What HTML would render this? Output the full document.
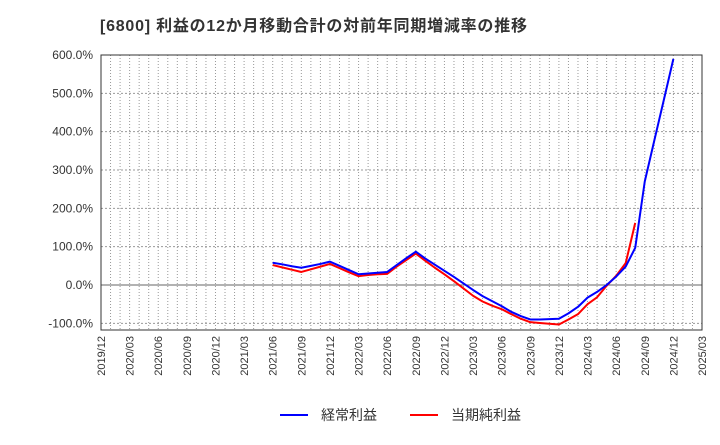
<!DOCTYPE html>
<html><head><meta charset="utf-8"><style>
body{margin:0;background:#fff;font-family:"Liberation Sans","Noto Sans CJK JP",sans-serif}
</style></head><body>
<svg id="c" width="720" height="440" xmlns="http://www.w3.org/2000/svg" font-family="Liberation Sans, Noto Sans CJK JP, sans-serif">
<text x="100" y="31" font-size="16" font-weight="bold" fill="#333" textLength="427" lengthAdjust="spacing">[6800]  利益の12か月移動合計の対前年同期増減率の推移</text>
<g id="grid"></g><g id="axes"></g><g id="series"></g>
<g>
<line x1="280" y1="415" x2="308" y2="415" stroke="#0000ff" stroke-width="2"/>
<text x="321" y="420" font-size="14" fill="#333">経常利益</text>
<line x1="410" y1="415" x2="438" y2="415" stroke="#ff0000" stroke-width="2"/>
<text x="451" y="420" font-size="14" fill="#333">当期純利益</text>
</g>
</svg>
<script>
const xLabels=["2019/12","2020/03","2020/06","2020/09","2020/12","2021/03","2021/06","2021/09","2021/12","2022/03","2022/06","2022/09","2022/12","2023/03","2023/06","2023/09","2023/12","2024/03","2024/06","2024/09","2024/12","2025/03"];
const yTicks=[-100,0,100,200,300,400,500,600];
const startMonth=18;
const keijo=[58,54,49,45,50,55,61,50,39,28,30,32,34,52,70,87,69,53,37,21,4,-13,-29,-42,-55,-70,-81,-90,-90,-89,-88,-74,-57,-33,-18,0,22,48,97,270,377,483,590];
const junri=[52,46,40,34,41,48,55,44,33,23,26,28,29,48,65,82,63,45,28,10,-9,-28,-43,-54,-63,-76,-88,-97,-99,-101,-103,-90,-76,-50,-32,-2,24,57,162];
const L=101,R=702,T=55,B=330,months=63;
const xs=m=>L+(R-L)*m/months;
const ys=v=>285-v*0.3833;
const NS="http://www.w3.org/2000/svg";
function mk(t,a,p){const e=document.createElementNS(NS,t);for(const k in a)e.setAttribute(k,a[k]);p.appendChild(e);return e;}
const g=document.getElementById('grid'),ax=document.getElementById('axes'),s=document.getElementById('series');
for(let m=1;m<months;m++){const l=mk('line',{x1:xs(m),x2:xs(m),y1:T,y2:B,stroke:'#999','stroke-dasharray':'1,2','stroke-width':1},g);

}
yTicks.forEach(v=>{const y=ys(v);const l=mk('line',{x1:L,x2:R,y1:y,y2:y,stroke:v===0?'#666':'#999','stroke-dasharray':v===0?'':'2,2','stroke-width':1},g);


const t=mk('text',{x:93,y:y+4,'text-anchor':'end','font-size':12,fill:'#333'},ax);t.textContent=v.toFixed(1)+'%';

});
const fr=mk('rect',{x:L,y:T,width:R-L,height:B-T,fill:'none',stroke:'#333','stroke-width':1},ax);


xLabels.forEach((lab,i)=>{const x=xs(i*3);const t=mk('text',{x:0,y:0,'text-anchor':'end','font-size':11,fill:'#333',transform:`translate(${x+4},${B+6}) rotate(-90)`},ax);t.textContent=lab;

});
function line(d,c,n){const p=mk('polyline',{points:d.map((v,i)=>xs(startMonth+i)+','+ys(v)).join(' '),fill:'none',stroke:c,'stroke-width':2,'stroke-linejoin':'round'},s);

}
line(junri,'#ff0000','series-junri');
line(keijo,'#0000ff','series-keijo');
</script>
</body></html>
